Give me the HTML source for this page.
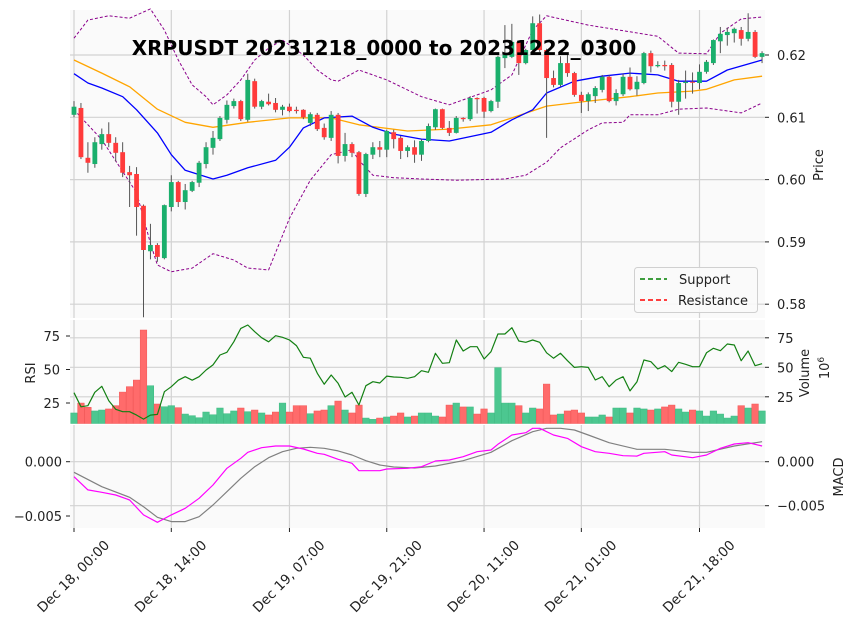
<!DOCTYPE html>
<html><head><meta charset="utf-8"><style>
body{margin:0;background:#fff;}
svg{display:block;font-family:"DejaVu Sans","Liberation Sans",sans-serif;}
</style></head><body>
<svg id="c" width="855" height="626" viewBox="0 0 855 626"></svg>
<script>
const opens=[0.6104,0.6115,0.6035,0.6025,0.6057,0.6073,0.6059,0.6044,0.6012,0.6009,0.5958,0.5885,0.5895,0.5874,0.5956,0.5996,0.5964,0.5982,0.5995,0.6025,0.6051,0.6065,0.6096,0.6118,0.6126,0.6096,0.6158,0.6117,0.6125,0.6123,0.6112,0.6117,0.6112,0.6112,0.6091,0.6104,0.6083,0.6067,0.6104,0.6038,0.6057,0.6044,0.5977,0.6040,0.6052,0.6048,0.6076,0.6067,0.6046,0.6052,0.6040,0.6062,0.6084,0.6113,0.6083,0.6075,0.6099,0.6097,0.6131,0.6131,0.6110,0.6125,0.6195,0.6197,0.6221,0.6187,0.6208,0.6251,0.6208,0.6163,0.6152,0.6187,0.6171,0.6136,0.6126,0.6134,0.6144,0.6165,0.6126,0.6137,0.6165,0.6145,0.6155,0.6203,0.6182,0.6184,0.6184,0.6125,0.6155,0.6157,0.6155,0.6173,0.6187,0.6222,0.6232,0.6235,0.6240,0.6226,0.6237,0.6197];
const closes=[0.6117,0.6036,0.6027,0.6060,0.6073,0.6059,0.6043,0.6011,0.6007,0.5956,0.5887,0.5895,0.5876,0.5959,0.5996,0.5964,0.5983,0.5996,0.6027,0.6052,0.6067,0.6099,0.6120,0.6126,0.6097,0.6160,0.6117,0.6126,0.6121,0.6112,0.6117,0.6110,0.6110,0.6100,0.6105,0.6081,0.6068,0.6104,0.6038,0.6057,0.6043,0.5977,0.6041,0.6052,0.6048,0.6078,0.6065,0.6046,0.6052,0.6040,0.6062,0.6086,0.6113,0.6083,0.6075,0.6099,0.6097,0.6131,0.6129,0.6109,0.6126,0.6197,0.6200,0.6221,0.6187,0.6208,0.6251,0.6208,0.6163,0.6152,0.6187,0.6171,0.6136,0.6126,0.6137,0.6147,0.6165,0.6126,0.6139,0.6165,0.6145,0.6157,0.6203,0.6182,0.6184,0.6182,0.6125,0.6155,0.6157,0.6156,0.6173,0.6189,0.6224,0.6234,0.6237,0.6242,0.6226,0.6237,0.6197,0.6203];
const highs=[0.6126,0.6123,0.6060,0.6068,0.6082,0.6092,0.6068,0.6060,0.6022,0.6020,0.5960,0.5929,0.5898,0.5960,0.6007,0.5998,0.5993,0.5998,0.6030,0.6060,0.6078,0.6102,0.6127,0.6130,0.6128,0.6170,0.6162,0.6128,0.6138,0.6131,0.6120,0.6122,0.6117,0.6113,0.6108,0.6107,0.6090,0.6110,0.6107,0.6075,0.6060,0.6046,0.6043,0.6060,0.6062,0.6080,0.6080,0.6070,0.6055,0.6063,0.6065,0.6090,0.6114,0.6114,0.6094,0.6102,0.6100,0.6134,0.6132,0.6133,0.6128,0.6199,0.6248,0.6250,0.6223,0.6210,0.6262,0.6265,0.6210,0.6175,0.6198,0.6200,0.6173,0.6141,0.6140,0.6150,0.6168,0.6168,0.6145,0.6170,0.6180,0.6166,0.6205,0.6207,0.6190,0.6191,0.6187,0.6160,0.6175,0.6172,0.6185,0.6192,0.6225,0.6245,0.6244,0.6244,0.6245,0.6267,0.6240,0.6206];
const lows=[0.6100,0.6033,0.6011,0.6019,0.6048,0.6052,0.6029,0.6004,0.5956,0.5910,0.5779,0.5872,0.5868,0.5872,0.5949,0.5956,0.5952,0.5980,0.5988,0.6018,0.6040,0.6062,0.6090,0.6114,0.6094,0.6093,0.6114,0.6113,0.6119,0.6108,0.6103,0.6108,0.6106,0.6097,0.6086,0.6078,0.6064,0.6062,0.6026,0.6029,0.6036,0.5974,0.5972,0.6033,0.6036,0.6036,0.6050,0.6033,0.6036,0.6027,0.6030,0.6060,0.6080,0.6081,0.6070,0.6074,0.6093,0.6094,0.6106,0.6099,0.6108,0.6115,0.6179,0.6195,0.6168,0.6185,0.6205,0.6205,0.6067,0.6148,0.6149,0.6165,0.6133,0.6107,0.6110,0.6123,0.6140,0.6124,0.6119,0.6134,0.6143,0.6135,0.6153,0.6172,0.6180,0.6175,0.6116,0.6104,0.6130,0.6138,0.6145,0.6170,0.6184,0.6203,0.6215,0.6220,0.6215,0.6222,0.6195,0.6187];
const volumes=[11.3,19.7,16.1,13,13.8,14.7,17.5,29,33.6,39.2,81.6,34.4,18.9,16.6,17.5,15.8,10.4,9,7.3,12.1,9.8,15.5,10.7,13,15.5,12.4,13.8,11.3,9.6,12.1,19.7,12.1,17.5,17.5,10.7,13,13.8,17.5,21.4,13.8,11.3,18,7,5.9,7,7.9,8.7,11.3,7.9,8.7,11.3,11.3,8.7,7.9,18,19.7,16.4,16.4,10.4,14.7,11.3,49.7,19.7,19.7,17.5,11.3,15.5,14.7,35.8,9.6,10.4,13,13.8,11.3,7.9,7.9,9.6,7.9,15.5,15.5,11.3,15.5,14.7,13.8,14.7,16.4,18,14.7,12.1,13.8,13,8.7,13,10.4,7,8.7,17.5,15.5,18.9,13];
const rsi=[32.7,22.2,23,33,37.5,26.7,20.3,18.5,18.5,16,13,16,16.5,33.4,37.2,42,44.6,42,44.6,49.6,53.4,60.8,62.8,70.7,80.7,83.2,78.2,73.7,70.7,75.2,74,72,67.8,59.1,58.4,47.2,39,45.9,39.7,29.5,33,23.5,37.9,40.9,39.9,45.1,44.4,44.2,43.4,44.6,49.1,47.9,62.1,54.6,55.1,72,63.8,67,67,57.8,63.3,76.5,76.5,81.2,71.3,70.3,72,70.3,62.5,58.4,62.1,56.6,51.6,52.1,51.6,42.2,44.6,37.2,42.2,44.6,34,40.9,57.1,55.8,50.4,52.8,48.4,55.4,53.9,52.1,52.1,62.5,65.8,64,69,68.3,56.6,63.8,52.8,54.3];
const smaIdx=[0,2,4,7,9,12,14,16,20,22,25,29,31,33,36,40,43,46,50,54,60,63,66,68,72,76,80,84,87,91,94,99];
const smaVals=[0.6170,0.6155,0.6147,0.6133,0.6112,0.6075,0.6040,0.6015,0.6001,0.6007,0.6019,0.6031,0.6052,0.6083,0.6099,0.6102,0.6084,0.6073,0.6065,0.6062,0.6076,0.6096,0.6112,0.6139,0.6158,0.6166,0.6171,0.6168,0.6158,0.6158,0.6176,0.6192];
const emaIdx=[0,4,8,12,16,20,25,31,37,41,48,54,60,63,68,74,80,84,89,91,95,99];
const emaVals=[0.6192,0.6171,0.6149,0.6113,0.6092,0.6084,0.6092,0.6099,0.6099,0.6088,0.6078,0.6081,0.6088,0.6099,0.6118,0.6126,0.6133,0.6139,0.6142,0.6145,0.6160,0.6166];
const upIdx=[0,2,5,8,10,11,13,15,17,19,20,22,24,26,28,30,33,35,37,38,41,45,50,54,60,63,66,68,74,79,84,87,91,93,96,99];
const upVals=[0.6227,0.6256,0.6263,0.6259,0.6269,0.6274,0.6240,0.6192,0.6152,0.6133,0.6120,0.6136,0.6160,0.6192,0.6211,0.6224,0.6200,0.6176,0.6160,0.6158,0.6176,0.6160,0.6133,0.6120,0.6144,0.6168,0.6240,0.6263,0.6248,0.6239,0.6230,0.6203,0.6202,0.6235,0.6258,0.6261];
const loIdx=[0,4,9,11,12,14,17,20,23,25,28,31,34,37,40,41,43,46,50,55,62,65,68,70,74,76,79,80,84,87,91,96,99];
const loVals=[0.6112,0.6064,0.5979,0.5898,0.5863,0.5852,0.5858,0.5881,0.5871,0.5858,0.5855,0.5938,0.5999,0.6040,0.6048,0.6031,0.6007,0.6003,0.6001,0.5999,0.6001,0.6007,0.6028,0.6051,0.6080,0.6091,0.6092,0.6104,0.6104,0.6113,0.6115,0.6107,0.6123];
const macdIdx=[0,2,4,6,8,10,12,14,16,18,20,22,24,25,27,29,31,33,35,36,38,40,41,44,45,48,50,52,54,56,58,60,61,63,65,66,67,69,71,73,75,77,79,81,82,85,86,89,91,93,95,97,99];
const macdVals=[-0.00138,-0.0026,-0.00282,-0.00307,-0.00353,-0.0049,-0.00558,-0.0049,-0.00429,-0.00337,-0.00215,-0.00061,0.00031,0.00087,0.00129,0.00145,0.00145,0.00117,0.00077,0.00068,0.00022,-0.00015,-0.00083,-0.00083,-0.00067,-0.00061,-0.00046,0.00006,0.00016,0.00046,0.00092,0.00108,0.0016,0.00246,0.00267,0.00308,0.00308,0.00246,0.00215,0.00138,0.00092,0.00077,0.00055,0.00052,0.00077,0.00092,0.00062,0.00037,0.00062,0.00123,0.00163,0.00175,0.00145];
const sigIdx=[0,4,8,10,12,14,16,18,20,22,24,26,28,30,32,34,36,38,40,42,44,46,49,52,56,60,63,66,68,70,72,74,77,81,85,89,91,95,99];
const sigVals=[-0.00098,-0.0023,-0.00328,-0.00414,-0.00512,-0.00552,-0.00552,-0.00506,-0.00399,-0.00276,-0.00153,-0.00046,0.00037,0.00092,0.00123,0.00133,0.00123,0.00099,0.00062,0.00009,-0.0003,-0.00049,-0.00058,-0.0004,0.00009,0.00087,0.00193,0.00276,0.00308,0.00308,0.00292,0.00246,0.00175,0.00114,0.00114,0.00087,0.00087,0.00145,0.00184];
const priceTicks=[0.58,0.59,0.60,0.61,0.62];
const xTickIdx=[0,14,31,45,59,73,90];
const xTickLabels=["Dec 18, 00:00","Dec 18, 14:00","Dec 19, 07:00","Dec 19, 21:00","Dec 20, 11:00","Dec 21, 01:00","Dec 21, 18:00"];
const rsiTicks=[25,50,75];
const volTicks=[25,50,75];
const macdTicksL=[0,-0.005];
const macdTickLabels=["0.000","\u22120.005"];

const NS="http://www.w3.org/2000/svg";
const svg=document.getElementById('c');
function mk(tag,at,parent){const e=document.createElementNS(NS,tag);for(const k in at)e.setAttribute(k,at[k]);(parent||svg).appendChild(e);return e;}
const L=70,R=765;
const X=i=>74+i*6.95;
const Yp=p=>55+(0.62-p)*6230;
const Yr=v=>436.5-v*1.34;
const Yv=v=>426.3-v*1.18;
const Ym=v=>461.7-v*10860;
const Ymr=v=>461.7-v*8800;
const panels=[["main-price-panel",10,318],["rsi-volume-panel",320,423.5],["macd-panel",425,528]];
panels.forEach(p=>{const r=mk('rect',{x:L,y:p[1],width:R-L,height:p[2]-p[1],fill:'#fafafa'});

});
xTickIdx.forEach(i=>{panels.forEach(p=>{mk('line',{x1:X(i),x2:X(i),y1:p[1],y2:p[2],stroke:'#d2d2d2','stroke-width':1.2});});});
priceTicks.forEach(t=>mk('line',{x1:L,x2:R,y1:Yp(t),y2:Yp(t),stroke:'#d2d2d2','stroke-width':1.2}));
volTicks.forEach(t=>mk('line',{x1:L,x2:R,y1:Yv(t),y2:Yv(t),stroke:'#d2d2d2','stroke-width':1.2}));
[0,-0.005].forEach(t=>mk('line',{x1:L,x2:R,y1:Ymr(t),y2:Ymr(t),stroke:'#d2d2d2','stroke-width':1.2}));

function poly(idx,vals,yf,attrs,name){const pts=idx.map((i,k)=>X(i).toFixed(1)+','+yf(vals[k]).toFixed(1)).join(' ');const e=mk('polyline',Object.assign({points:pts,fill:'none','stroke-linejoin':'round'},attrs));

return e;}
poly(upIdx,upVals,Yp,{stroke:'#8b008b','stroke-width':1,'stroke-dasharray':'3,2'},'upper-bollinger-band');
poly(loIdx,loVals,Yp,{stroke:'#8b008b','stroke-width':1,'stroke-dasharray':'3,2'},'lower-bollinger-band');
poly(emaIdx,emaVals,Yp,{stroke:'#ffa500','stroke-width':1.3},'orange-moving-average');
poly(smaIdx,smaVals,Yp,{stroke:'#0000ff','stroke-width':1.3},'blue-moving-average');
const cg=mk('g',{});


for(let i=0;i<closes.length;i++){
 const up=closes[i]>=opens[i];const col=up?'#1aaf6c':'#ff3b3b';
 mk('line',{x1:X(i),x2:X(i),y1:Yp(highs[i]),y2:Yp(lows[i]),stroke:'#555','stroke-width':1},cg);
 const t=Yp(Math.max(opens[i],closes[i])),b=Yp(Math.min(opens[i],closes[i]));
 const r=mk('rect',{x:X(i)-2.4,y:t,width:4.8,height:Math.max(b-t,1),fill:col},cg);
 
 
}
for(let i=0;i<volumes.length;i++){
 const up=closes[i]>=opens[i];
 const y=Yv(volumes[i]);
 const r=mk('rect',{x:X(i)-3.3,y:y,width:6.6,height:423.5-y,fill:up?'#4cc790':'#ff6b6b',stroke:up?'#3dbb82':'#f25555','stroke-width':0.5});
 
 
}
poly(rsi.map((v,i)=>i),rsi,Yr,{stroke:'#138013','stroke-width':1.2},'rsi-line');
poly(sigIdx,sigVals,Ym,{stroke:'#808080','stroke-width':1.2},'macd-signal-line');
poly(macdIdx,macdVals,Ym,{stroke:'#ff00ff','stroke-width':1.2},'macd-line');

function txt(x,y,s,at,name){const e=mk('text',Object.assign({x:x,y:y,'font-size':13,fill:'#222'},at||{}));e.textContent=s;

return e;}
priceTicks.forEach(t=>{mk('line',{x1:R,x2:R+4,y1:Yp(t),y2:Yp(t),stroke:'#222'});txt(R+12,Yp(t)+5,t.toFixed(2),{},'price-tick-label');});
volTicks.forEach(t=>{mk('line',{x1:R,x2:R+4,y1:Yv(t),y2:Yv(t),stroke:'#222'});txt(R+12,Yv(t)+5,String(t),{},'volume-tick-label');});
[0,-0.005].forEach((t,k)=>{mk('line',{x1:R,x2:R+4,y1:Ymr(t),y2:Ymr(t),stroke:'#222'});txt(R+12,Ymr(t)+5,macdTickLabels[k],{},'macd-right-tick-label');});
rsiTicks.forEach(t=>{mk('line',{x1:L-4,x2:L,y1:Yr(t),y2:Yr(t),stroke:'#222'});txt(L-10,Yr(t)+5,String(t),{'text-anchor':'end'},'rsi-tick-label');});
macdTicksL.forEach((t,k)=>{mk('line',{x1:L-4,x2:L,y1:Ym(t),y2:Ym(t),stroke:'#222'});txt(L-8,Ym(t)+5,macdTickLabels[k],{'text-anchor':'end'},'macd-left-tick-label');});
xTickIdx.forEach((i,k)=>{mk('line',{x1:X(i),x2:X(i),y1:528,y2:532,stroke:'#222'});
 const cx=X(i)-1, cy=581;
 txt(cx,cy,xTickLabels[k],{'text-anchor':'middle','font-size':13.5,transform:`rotate(-45 ${cx} ${cy-5})`},'x-tick-label');});
txt(823,165,'Price',{'text-anchor':'middle',transform:'rotate(-90 823 165)'},'price-axis-title');
txt(35,373,'RSI',{'text-anchor':'middle',transform:'rotate(-90 35 373)'},'rsi-axis-title');
txt(809,373,'Volume',{'text-anchor':'middle',transform:'rotate(-90 809 373)'},'volume-axis-title');
const p6=txt(829,368,'10',{'text-anchor':'middle',transform:'rotate(-90 829 368)'},'volume-scale-label');
const sup=mk('tspan',{'font-size':9,dy:-5},p6);sup.textContent='6';
txt(843,477,'MACD',{'text-anchor':'middle',transform:'rotate(-90 843 477)'},'macd-axis-title');
txt(384,55,'XRPUSDT 20231218_0000 to 20231222_0300',{'text-anchor':'middle','font-size':20,'font-weight':'bold',fill:'#000'},'chart-title');
const lg=mk('g',{});


mk('rect',{x:634.5,y:267.5,width:123,height:45,rx:3,fill:'#fafafa','fill-opacity':0.9,stroke:'#d0d0d0'},lg);
mk('line',{x1:640,x2:667,y1:279,y2:279,stroke:'#008000','stroke-width':1.6,'stroke-dasharray':'5,3'},lg);
mk('line',{x1:640,x2:667,y1:300,y2:300,stroke:'#ff0000','stroke-width':1.6,'stroke-dasharray':'5,3'},lg);
txt(679,284,'Support',{},'legend-support');
txt(678,305,'Resistance',{},'legend-resistance');
</script>
</body></html>
